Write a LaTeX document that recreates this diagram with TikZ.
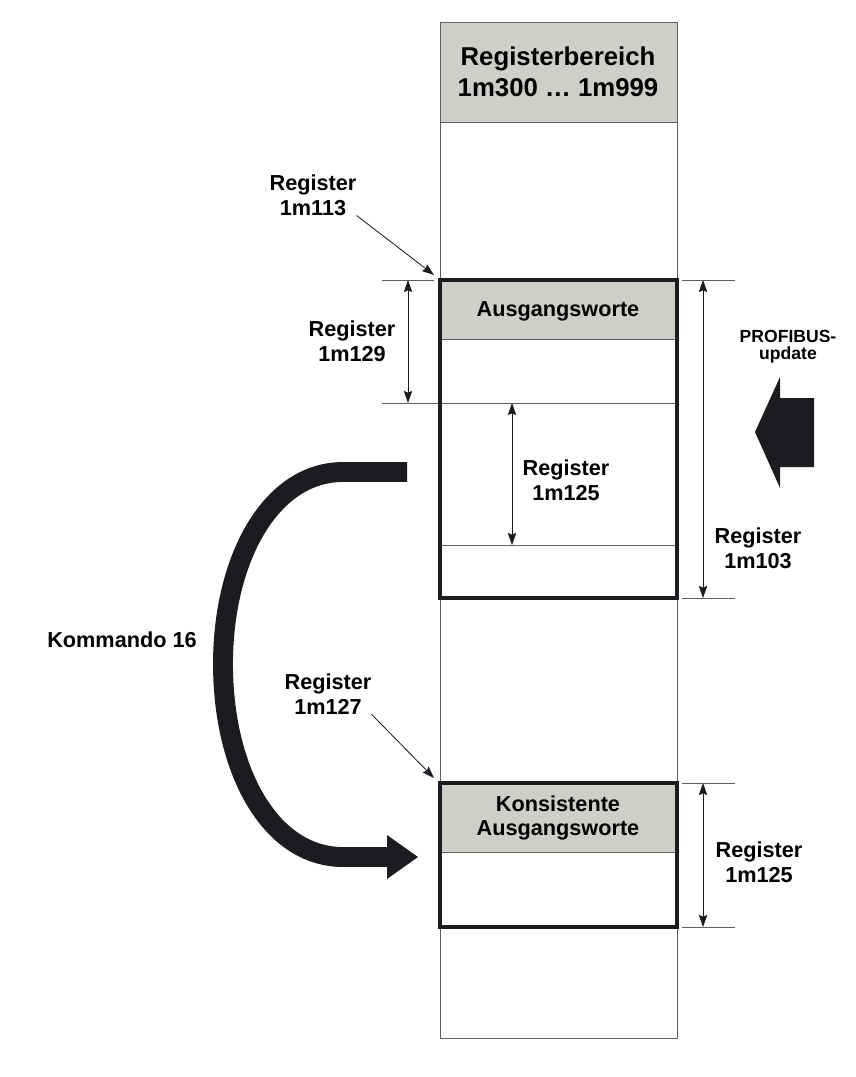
\documentclass[tikz,border=0pt]{standalone}
\usepackage{fontspec}
\setmainfont{Liberation Sans}
\usetikzlibrary{arrows.meta, positioning}

\definecolor{cellgray}{RGB}{205,208,200}
\definecolor{inkdark}{RGB}{26,28,32}
\definecolor{rulegray}{RGB}{95,95,95}

\begin{document}
\begin{tikzpicture}[
    x=0.03cm, y=-0.03cm,
    txt/.style={align=center, inner sep=0pt, font=\bfseries\fontsize{18.5}{21}\selectfont},
    cell/.style={draw=rulegray, line width=0.7pt},
    frame/.style={draw=inkdark, line width=3pt},
    shade/.style={fill=cellgray},
    ext/.style={draw=rulegray, line width=0.7pt},
    dim/.style={{Stealth[length=3.6mm, width=2.5mm, inset=0.5mm]}-{Stealth[length=3.6mm, width=2.5mm, inset=0.5mm]}, line width=0.7pt, draw=inkdark},
    pointer/.style={-{Stealth[length=3.6mm, width=2.5mm, inset=0.5mm]}, line width=0.7pt, draw=inkdark},
    band/.style={draw=inkdark, line width=17pt},
    bulk/.style={fill=inkdark},
]
\useasboundingbox (0,0) rectangle (855,1077);

% register column
\draw[cell, shade] (440,22) rectangle (677,122);
\draw[cell] (440,122) rectangle (677,1038);

% output words block
\draw[cell, shade] (440,280) rectangle (677,339);
\draw[cell] (382,403) -- (677,403);
\draw[cell] (440,545) -- (677,545);
\draw[frame] (440,280) rectangle (677,598);

% consistent block
\draw[cell, shade] (440,783) rectangle (677,852);
\draw[frame] (440,783) rectangle (677,927);

\node[txt, font=\bfseries\fontsize{22}{26.5}\selectfont] (bereich) at (558,72) {Registerbereich\\1m300 … 1m999};
\node[txt] (aus) at (558,311) {Ausgangsworte};
\node[txt] (kons) at (558,818) {Konsistente\\Ausgangsworte};

\node[txt] (r113) at (313,195) {Register\\1m113};
\node[txt] (r129) at (352,341) {Register\\1m129};
\node[txt] (r125a) at (566,480) {Register\\1m125};
\node[txt, font=\bfseries\fontsize{15}{14.5}\selectfont] (profi) at (788,347) {PROFIBUS-\\update};
\node[txt] (r103) at (758,548) {Register\\1m103};
\node[txt] (kmd) at (122,640) {Kommando 16};
\node[txt] (r127) at (328,694) {Register\\1m127};
\node[txt] (r125b) at (759,862) {Register\\1m125};

% pointers
\coordinate (t113) at (434,275);
\coordinate (t127) at (434,778);
\draw[pointer] (r113.south east) -- (t113);
\draw[pointer] (r127.south east) -- (t127);

% dimension lines
\draw[ext] (382,280) -- (434,280);
\draw[ext] (682,280) -- (735,280);
\draw[ext] (682,598) -- (735,598);
\draw[ext] (682,783) -- (735,783);
\draw[ext] (682,927) -- (735,927);
\coordinate (d129a) at (408,280);
\coordinate (d129b) at (408,403);
\coordinate (d125a) at (512,403);
\coordinate (d125b) at (512,545);
\coordinate (d103a) at (703,280);
\coordinate (d103b) at (703,598);
\coordinate (d125c) at (703,783);
\coordinate (d125d) at (703,927);
\draw[dim] (d129a) -- (d129b);
\draw[dim] (d125a) -- (d125b);
\draw[dim] (d103a) -- (d103b);
\draw[dim] (d125c) -- (d125d);

% profibus update arrow
\fill[bulk] (814,398) -- (780,398) -- (780,377) -- (755,432) -- (780,488) -- (780,467) -- (814,467) -- cycle;

% kommando 16 arrow
\coordinate (kfrom) at (407,472);
\coordinate (kto) at (387,857);
\draw[band] (kfrom) -- (343,472) .. controls (270,472) and (223,560) .. (223,664) .. controls (223,770) and (270,857) .. (343,857) -- (kto);
\fill[bulk] (387,835) -- (418,857) -- (387,879) -- cycle;
\end{tikzpicture}
\end{document}
